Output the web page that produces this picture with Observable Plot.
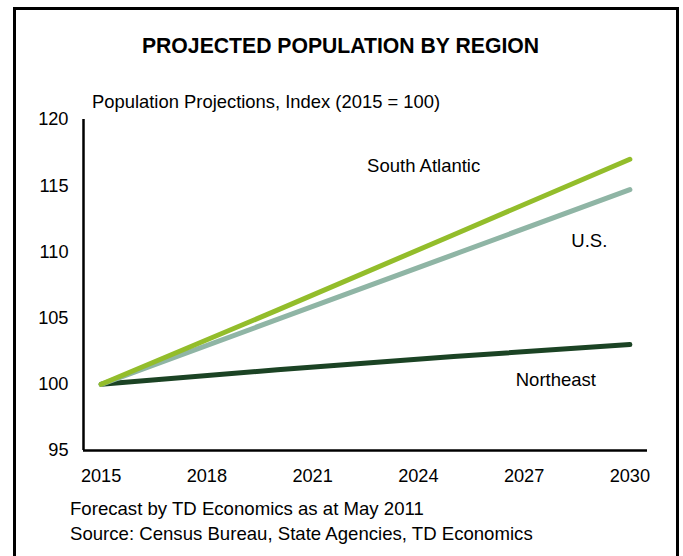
<!DOCTYPE html>
<html>
<head>
<meta charset="utf-8">
<script src="https://cdn.jsdelivr.net/npm/d3@7"></script>
<script src="https://cdn.jsdelivr.net/npm/@observablehq/plot@0.6"></script>
<style>
  html, body { margin: 0; padding: 0; background: #fff; overflow: hidden; }
  #wrap { position: relative; width: 683px; height: 556px; font-family: "Liberation Sans", Arial, sans-serif; color: #000; }
  #frame { position: absolute; left: 13px; top: 7px; width: 660px; height: 600px; border: 3px solid #000; box-sizing: content-box; pointer-events: none; z-index: 5; }
  .t { position: absolute; line-height: 1; white-space: nowrap; }
  #chart { position: absolute; left: 0; top: 0; }
</style>
</head>
<body>
<div id="wrap">
  <div id="chart"></div>
  <div id="frame"></div>
  <div class="t" id="title" style="left:0;width:681px;text-align:center;top:34.5px;font-size:21.2px;font-weight:bold;">PROJECTED POPULATION BY REGION</div>
  <div class="t" style="left:92px;top:93px;font-size:18.4px;">Population Projections, Index (2015 = 100)</div>
  <div class="t" style="left:70px;top:500px;font-size:18.6px;">Forecast by TD Economics as at May 2011</div>
  <div class="t" style="left:70px;top:525px;font-size:18.6px;">Source: Census Bureau, State Agencies, TD Economics</div>
</div>
<script>
const years = [2015, 2020, 2025, 2030];
const southAtlantic = [100, 105.6, 111.3, 117.0];
const unitedStates = [100, 104.9, 109.8, 114.7];
const northeast = [100, 101.1, 102.1, 103.0];
const seriesNames = ["Northeast", "U.S.", "South Atlantic"];
const seriesColors = ["#1b4324", "#8fb5a5", "#93bd2b"];
const xTicks = [2015, 2018, 2021, 2024, 2027, 2030];
const yTicks = [95, 100, 105, 110, 115, 120];
const labelNames = ["South Atlantic", "U.S.", "Northeast"];
const labelYears = [2024.15, 2028.85, 2027.9];
const labelValues = [116.5, 110.8, 100.3];

const valuesBySeries = {"Northeast": northeast, "U.S.": unitedStates, "South Atlantic": southAtlantic};
const rows = seriesNames.flatMap(s => years.map((yr, i) => ({series: s, year: yr, value: valuesBySeries[s][i]})));
const labels = labelNames.map((n, i) => ({name: n, year: labelYears[i], value: labelValues[i]}));

const plot = Plot.plot({
  width: 683,
  height: 556,
  marginLeft: 83,
  marginRight: 36,
  marginTop: 119,
  marginBottom: 106,
  style: {background: "transparent", fontFamily: "'Liberation Sans', Arial, sans-serif", fontSize: "18px", color: "#000"},
  x: {domain: [2014.5, 2030.5], label: null},
  y: {domain: [95, 120], label: null},
  color: {domain: seriesNames, range: seriesColors},
  marks: [
    Plot.axisX({ticks: xTicks, tickFormat: d => String(d), tickSize: 0, tickPadding: 19, label: null, fontSize: 18.2}),
    Plot.axisY({ticks: yTicks, tickSize: 0, tickPadding: 15, label: null, fontSize: 18.2}),
    Plot.ruleX([2014.5], {y1: 95, y2: 120, stroke: "#000", strokeWidth: 2.5}),
    Plot.ruleY([95], {x1: 2014.5, x2: 2030.5, stroke: "#000", strokeWidth: 2.5}),
    Plot.line(rows, {x: "year", y: "value", z: "series", stroke: "series", strokeWidth: 5, strokeLinecap: "round", strokeLinejoin: "round"}),
    Plot.text(labels, {x: "year", y: "value", text: "name", fontSize: 18.5, fill: "#000"})
  ]
});
document.getElementById("chart").appendChild(plot);
</script>
</body>
</html>
